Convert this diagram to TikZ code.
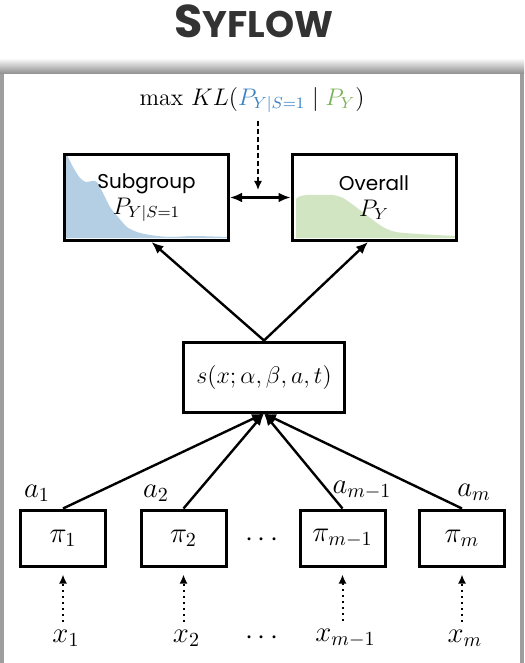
\documentclass[tikz,border=0pt]{standalone}
\usepackage{fontspec}
\newfontfamily\popfont{Poppins}
\usetikzlibrary{arrows.meta}
\definecolor{titgris}{HTML}{333333}
\definecolor{azul}{HTML}{3B82C4}
\definecolor{verde}{HTML}{7BB35A}
\definecolor{azulclaro}{HTML}{B4CEE4}
\definecolor{verdeclaro}{HTML}{D2E5C3}

\begin{document}
\begin{tikzpicture}[x=0.5pt,y=-0.5pt,line width=1.2pt,
  caja/.style={draw,line width=1.5pt,inner sep=0pt},
  mat/.style={font=\Large},
  flecha/.style={-{Latex[length=6pt,width=5pt]}},
  punteada/.style={dotted,line width=1pt,-{Latex[length=4.5pt,width=4pt]},shorten >=3.5pt}]
  \useasboundingbox (0,0) rectangle (524,663);
  % fondo y panel con sombra
  \fill[white] (0,0) rectangle (524,663);
  \shade[top color=white,bottom color=black!45] (0,58) rectangle (524,74);
  \fill[black!38] (0,74) rectangle (4,663);
  \fill[black!38] (520,74) rectangle (524,663);
  \fill[white] (4,74) rectangle (520,663);
  % titulo
  \node[text=titgris] (titulo) at (254,21)
    {\popfont\bfseries{\fontsize{23}{25}\selectfont S}\fontsize{18.5}{20}\selectfont YFLOW};
  % objetivo
  \node[font=\large] (kl) at (252,100)
    {$\mathrm{max}\ KL(\textcolor{azul}{P_{Y|S=1}}\mid\textcolor{verde}{P_Y})$};
  % distribuciones
  \fill[azulclaro] (66,238) -- (66,155) -- plot[smooth] coordinates {(67,155) (73,167) (80,178) (86,182) (92,181)
    (97,182) (103,193) (110,207) (118,217) (127,227) (137,232) (150,235) (170,237) (193,236) (228,237)} -- (228,238) -- cycle;
  \fill[verdeclaro] (296,238) -- (296,199) -- plot[smooth] coordinates {(298,197) (306,195) (319,195) (333,195)
    (343,198) (356,207) (369,217) (383,227) (396,232) (419,234) (455,236)} -- (455,238) -- cycle;
  % cajas de arriba
  \node[caja,minimum width=82pt,minimum height=43pt,align=center] (sub) at (146.5,197.5)
    {\popfont\fontsize{10}{14}\selectfont Subgroup\\[1pt]\large$P_{Y|S=1}$};
  \node[caja,minimum width=82pt,minimum height=43pt,align=center] (ove) at (374,197.5)
    {\popfont\fontsize{10}{14}\selectfont Overall\\[1pt]\large$P_Y$};
  \coordinate (klpie) at (258,190);
  \draw[dashed,dash pattern=on 2.5pt off 1.5pt,line width=0.8pt,-{Latex[length=4.5pt,width=4pt]}]
    (kl.south -| klpie) -- (klpie);
  \draw[{Latex[length=6pt,width=5pt]}-{Latex[length=6pt,width=5pt]}] (sub.east) -- (ove.west);
  % funcion s
  \node[caja,minimum width=80.5pt,minimum height=35pt,font=\large] (s) at (264,377)
    {$s(x;\alpha,\beta,a,t)$};
  \draw[flecha] (s.north) -- ([xshift=2.5pt]sub.south);
  \draw[flecha] (s.north) -- ([xshift=-3pt]ove.south);
  % reglas pi y entradas x
  \foreach \i/\px/\pt/\xt in {1/63/\pi_1/x_1, 2/183.5/\pi_2/x_2, 3/342.5/\pi_{m-1}/x_{m-1}, 4/462/\pi_m/x_m} {
    \node[caja,minimum width=42.5pt,minimum height=28pt,mat] (pi\i) at (\px,538) {$\pt$};
    \node[mat] (x\i) at (\px+3,638) {$\xt$};
    \draw[punteada] (x\i.north -| pi\i) -- (pi\i);
    \draw[flecha] (pi\i.north) -- (s.south);
  }
  \node[font=\Large] (a1) at (37,493) {$a_1$};
  \node[font=\Large] (a2) at (156,493) {$a_2$};
  \node[font=\Large] (a3) at (362,490) {$a_{m-1}$};
  \node[font=\Large] (a4) at (474,492) {$a_m$};
  \node[font=\Large] (pts1) at (262,540) {$\cdots$};
  \node[font=\Large] (pts2) at (262,638) {$\cdots$};
\end{tikzpicture}
\end{document}
